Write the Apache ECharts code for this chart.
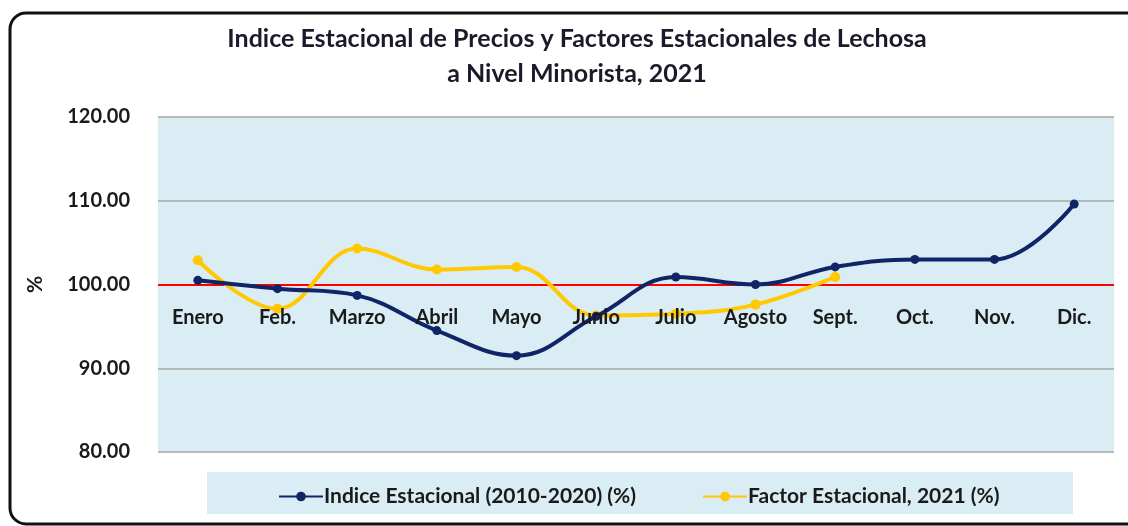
<html>
<head>
<meta charset="UTF-8" />
<title>Indice Estacional Lechosa</title>
<script src="https://cdn.jsdelivr.net/npm/echarts@6/dist/echarts.min.js"></script>
<style type="text/css">
html, body { margin:0; padding:0; background:#fff; }
#main { width:1128px; height:526px; }
</style>
</head>
<body>
<div id="main"></div>
<script type="text/javascript">
// datos
var meses = ['Enero', 'Feb.', 'Marzo', 'Abril', 'Mayo', 'Junio', 'Julio', 'Agosto', 'Sept.', 'Oct.', 'Nov.', 'Dic.'];
var indiceEstacional = [100.5, 99.5, 98.7, 94.5, 91.5, 96.2, 100.9, 100.0, 102.1, 103.0, 103.0, 109.6];
var factorEstacional = [102.9, 97.1, 104.3, 101.8, 102.1, 96.3, 96.5, 97.6, 100.9];
var ejeY = { min: 80, max: 120, interval: 10 };

var fuente = 'Lato';
var chart = echarts.init(document.getElementById('main'));

chart.setOption({
  animation: false,
  title: {
    text: 'Indice Estacional de Precios y Factores Estacionales de Lechosa\na Nivel Minorista, 2021',
    left: 572,
    top: 16,
    textAlign: 'center',
    textStyle: { fontFamily: fuente, fontSize: 25, fontWeight: 'bold', color: '#1a1a2a', lineHeight: 35 }
  },
  graphic: [
    // marco redondeado
    { type: 'rect', shape: { x: 10, y: 13, width: 1135, height: 511, r: 16 },
      style: { fill: 'none', stroke: '#111', lineWidth: 3 }, z: 0 },
    // caja de la leyenda
    { type: 'rect', shape: { x: 207, y: 472, width: 866, height: 42 },
      style: { fill: '#daedf4' }, z: 0 }
  ],
  legend: {
    left: 273,
    top: 481,
    itemGap: 66,
    itemWidth: 44,
    itemHeight: 12,
    textStyle: { fontFamily: fuente, fontSize: 21, fontWeight: 'bold', color: '#1a1a1a', padding: [0, 0, 0, -4] },
    data: ['Indice Estacional (2010-2020) (%)', 'Factor Estacional, 2021 (%)']
  },
  grid: {
    left: 158, right: 14, top: 117, bottom: 74,
    show: true, backgroundColor: '#daedf4', borderWidth: 0
  },
  xAxis: {
    type: 'category',
    data: meses,
    boundaryGap: true,
    axisLine: { show: false },
    axisTick: { show: false },
    axisLabel: {
      interval: 0,
      hideOverlap: false,
      margin: -134,
      verticalAlign: 'middle',
      fontFamily: fuente, fontSize: 20, fontWeight: 'bold', color: '#1a1a1a'
    },
    z: 5
  },
  yAxis: {
    type: 'value',
    min: ejeY.min, max: ejeY.max, interval: ejeY.interval,
    name: '%',
    nameLocation: 'middle',
    nameGap: 112,
    nameRotate: 90,
    nameTextStyle: { fontFamily: fuente, fontSize: 21, fontWeight: 'bold', color: '#1a1a1a' },
    axisLine: { show: false },
    axisTick: { show: false },
    splitLine: { lineStyle: { color: '#a6a6a6', width: 1.5 } },
    axisLabel: {
      margin: 28,
      formatter: function (v) { return v.toFixed(2); },
      fontFamily: fuente, fontSize: 20, fontWeight: 'bold', color: '#1a1a1a'
    }
  },
  series: [
    {
      name: 'Indice Estacional (2010-2020) (%)',
      type: 'line',
      data: indiceEstacional,
      smooth: 0.4,
      symbol: 'circle',
      symbolSize: 9,
      z: 4,
      lineStyle: { color: '#102468', width: 4 },
      itemStyle: { color: '#102468' },
      markLine: {
        silent: true,
        symbol: 'none',
        label: { show: false },
        lineStyle: { color: '#ff0000', width: 2, type: 'solid' },
        data: [{ yAxis: 100 }],
        z: 1
      }
    },
    {
      name: 'Factor Estacional, 2021 (%)',
      type: 'line',
      data: factorEstacional,
      smooth: 0.4,
      symbol: 'circle',
      symbolSize: 10,
      z: 3,
      lineStyle: { color: '#ffc800', width: 4 },
      itemStyle: { color: '#ffc800' }
    }
  ]
});
</script>
</body>
</html>
